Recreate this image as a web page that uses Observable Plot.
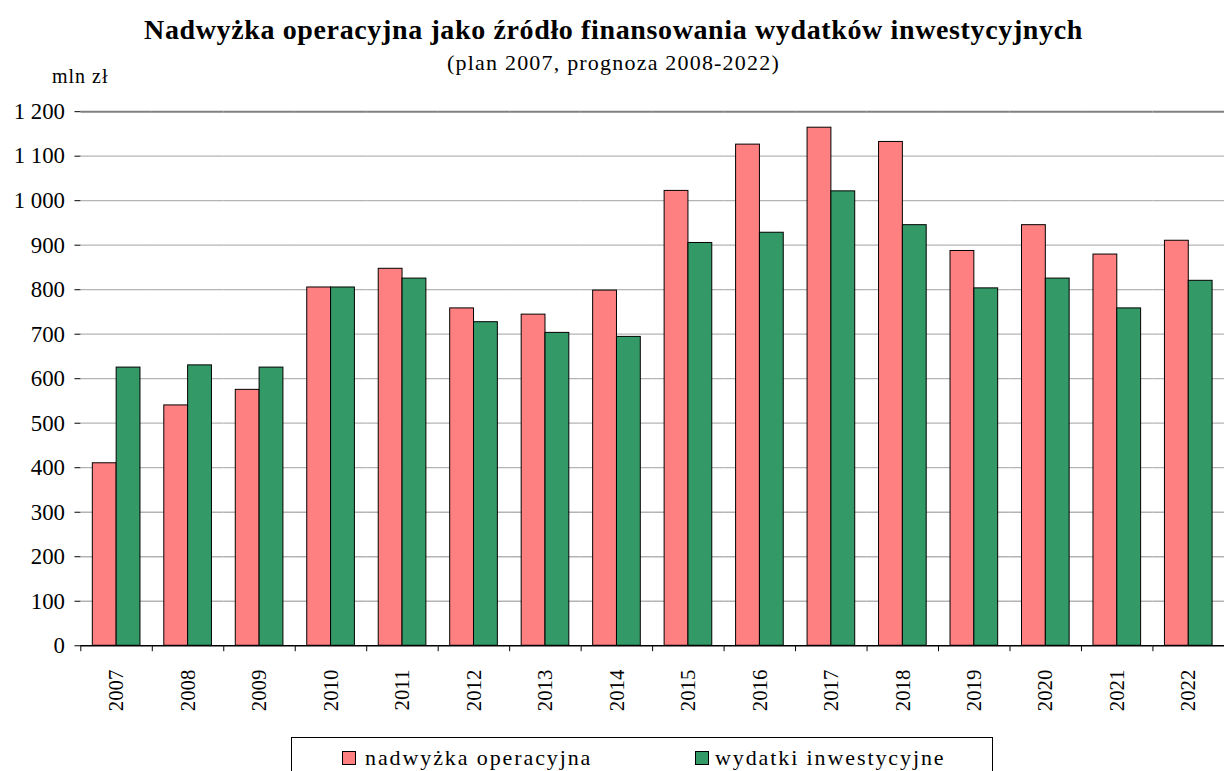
<!DOCTYPE html>
<html>
<head>
<meta charset="utf-8">
<script src="https://cdn.jsdelivr.net/npm/d3@7"></script>
<script src="https://cdn.jsdelivr.net/npm/@observablehq/plot@0.6"></script>
<style>
  html, body { margin: 0; padding: 0; background: #fff; overflow: hidden; }
  #wrap { position: relative; width: 1225px; height: 771px; overflow: hidden; font-family: "Liberation Serif", "Times New Roman", serif; color: #000; }
  #chart { position: absolute; left: 0; top: 0; }
  .title { position: absolute; left: 0; width: 1225px; text-align: center; white-space: nowrap; }
  #t1 { top: 14px; font-size: 28px; font-weight: bold; line-height: 31px; letter-spacing: 0.63px; left: 1px; }
  #t2 { top: 50px; font-size: 22px; line-height: 25px; letter-spacing: 1.2px; left: 1px; }
  #unit { position: absolute; left: 52px; top: 65px; font-size: 20px; line-height: 22px; letter-spacing: 1px; }
  #legend { position: absolute; left: 291px; top: 737px; width: 702px; height: 50px; border: 1px solid #000; box-sizing: border-box; }
  .item { position: absolute; top: 7px; font-size: 22px; line-height: 25px; white-space: nowrap; letter-spacing: 1.9px; }
  .sw { position: absolute; top: 13px; width: 12px; height: 12px; border: 1px solid #000; }
</style>
</head>
<body>
<div id="wrap">
  <div id="t1" class="title">Nadwyżka operacyjna jako źródło finansowania wydatków inwestycyjnych</div>
  <div id="t2" class="title">(plan 2007, prognoza 2008-2022)</div>
  <div id="unit">mln zł</div>
  <div id="chart"></div>
  <div id="legend"></div>
</div>
<script>
const years = ["2007","2008","2009","2010","2011","2012","2013","2014","2015","2016","2017","2018","2019","2020","2021","2022"];
const seriesNames = ["nadwyżka operacyjna", "wydatki inwestycyjne"];
const nadwyzka = [410, 540, 575, 805, 847, 758, 744, 798, 1022, 1126, 1164, 1132, 887, 945, 879, 910];
const wydatki  = [625, 630, 625, 805, 825, 727, 703, 694, 905, 928, 1021, 945, 803, 825, 758, 820];
const seriesColors = ["#FF8080", "#339966"];
const yTicks = [0, 100, 200, 300, 400, 500, 600, 700, 800, 900, 1000, 1100, 1200];

const data = [];
years.forEach((y, i) => {
  data.push({year: y, series: seriesNames[0], value: nadwyzka[i]});
  data.push({year: y, series: seriesNames[1], value: wydatki[i]});
});

const W = 1234, ML = 79, MR = 0;
const step = (W - ML - MR) / years.length;
const fmt = d => d3.format(",")(d).replace(/,/g, " ");
const serif = "'Liberation Serif', 'Times New Roman', serif";

const chart = Plot.plot({
  width: W,
  height: 771,
  marginLeft: ML,
  marginRight: MR,
  marginTop: 112,
  marginBottom: 121,
  style: `font-family: ${serif}; background: transparent; color: #000;`,
  fx: {domain: years, padding: 0},
  x: {domain: seriesNames, paddingInner: 0, paddingOuter: 0.5, axis: null},
  y: {domain: [0, 1200]},
  color: {domain: seriesNames, range: seriesColors},
  marks: [
    Plot.gridY(yTicks.slice(1, -1), {stroke: "#b4b4b4", strokeOpacity: 1, strokeWidth: 1.3}),
    Plot.ruleY([1200], {stroke: "#808080", strokeWidth: 2}),
    Plot.barY(data, {fx: "year", x: "series", y: "value", fill: "series", stroke: "#000", strokeWidth: 1}),
    Plot.ruleY([0], {stroke: "#000", strokeWidth: 1.3}),
    Plot.axisY({ticks: yTicks, tickFormat: fmt, tickSize: 6, tickPadding: 10, fontSize: 23, fontFamily: serif, line: true, stroke: "#000", fill: "#000", label: null}),
    Plot.axisFx({anchor: "bottom", tickSize: 0, tickRotate: -90, tickPadding: 24, fontSize: 21, fontFamily: serif, fill: "#000", label: null}),
    Plot.axisFx({anchor: "bottom", tickSize: 6, tickFormat: () => "", dx: -step / 2, stroke: "#000", label: null})
  ]
});
document.getElementById("chart").appendChild(chart);

const legend = document.getElementById("legend");
const legendPos = [[50, 73], [403, 423]];
seriesNames.forEach((name, i) => {
  const sw = document.createElement("div");
  sw.className = "sw";
  sw.style.left = legendPos[i][0] + "px";
  sw.style.background = seriesColors[i];
  legend.appendChild(sw);
  const t = document.createElement("div");
  t.className = "item";
  t.style.left = legendPos[i][1] + "px";
  t.textContent = name;
  legend.appendChild(t);
});
</script>
</body>
</html>
